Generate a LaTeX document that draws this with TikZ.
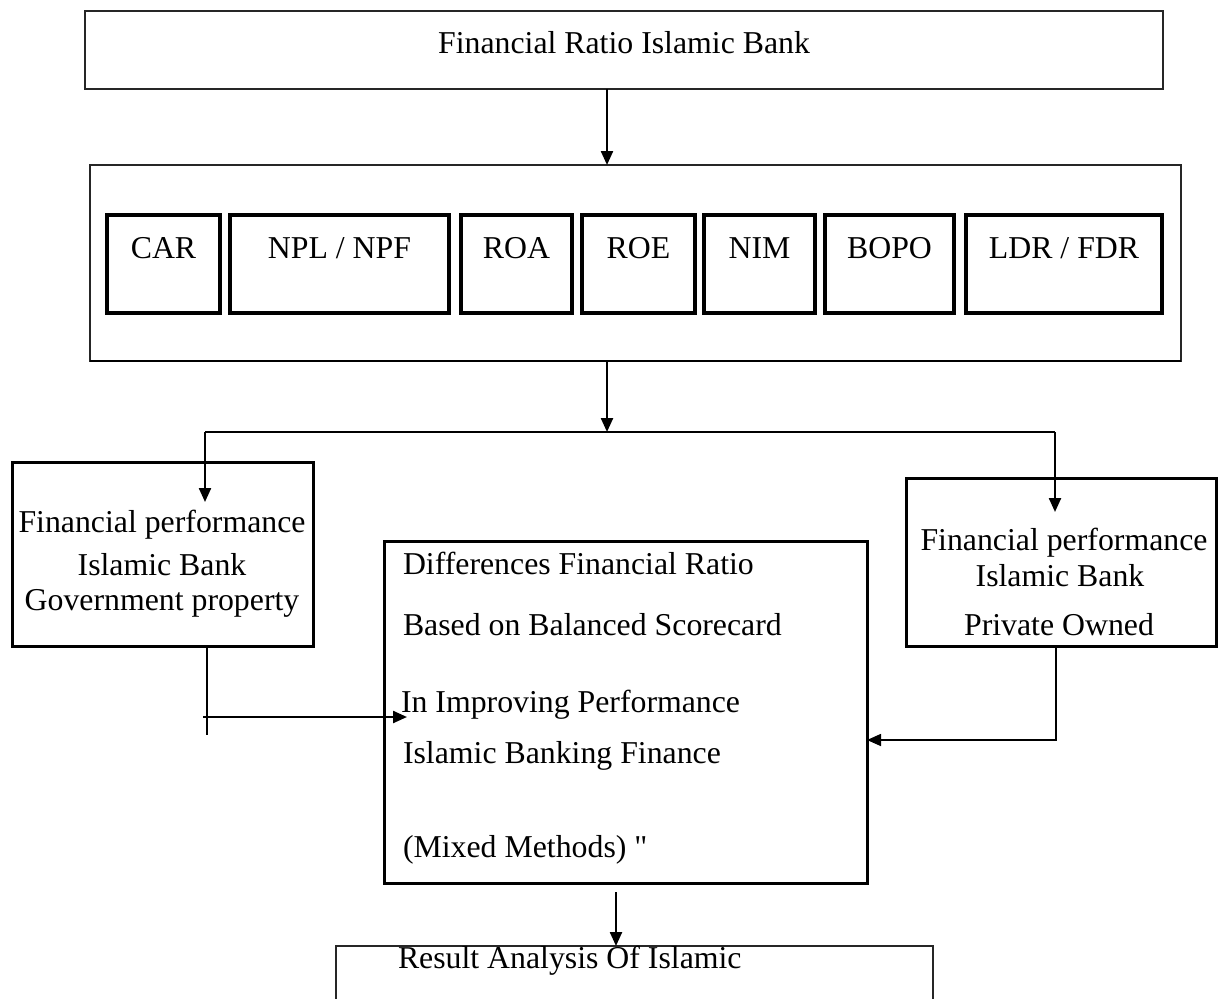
\documentclass[tikz,border=0pt]{standalone}
\usepackage{fontspec}
\setmainfont{Liberation Serif}
\newfontfamily\plainquote{Liberation Serif}[Ligatures=TeXOff]
\usetikzlibrary{arrows.meta}
\begin{document}
\begin{tikzpicture}[x=1pt,y=-1pt,
  every node/.style={inner sep=0pt, outer sep=0pt},
  thinbox/.style={draw=black!85, line width=1.4pt, anchor=north west},
  smallbox/.style={draw=black, line width=3.2pt, anchor=north west},
  midbox/.style={draw=black, line width=3pt, anchor=north west},
  txt/.style={anchor=base, font=\fontsize{31.8}{36}\selectfont},
  txtl/.style={anchor=base west, font=\fontsize{31.8}{36}\selectfont},
  conn/.style={line width=2.3pt},
  arr/.style={line width=2.3pt, -{Triangle[length=14pt,width=12pt]}},
]
\useasboundingbox (0,0) rectangle (1219,999);
\clip (0,0) rectangle (1219,999);

% top box
\node[thinbox, minimum width=1078pt, minimum height=78pt] (top) at (85,11) {};
\node[txt] (topT) at (624,53) {Financial Ratio Islamic Bank};

% ratios box
\node[thinbox, minimum width=1091pt, minimum height=196pt] (ratios) at (90,165) {};
\draw[line width=2.6pt] (ratios.south west) -- (ratios.south east);

% small ratio boxes
\node[smallbox, minimum width=113pt, minimum height=98pt] (car) at (107,215) {};
\node[smallbox, minimum width=219pt, minimum height=98pt] (npl) at (230,215) {};
\node[smallbox, minimum width=111pt, minimum height=98pt] (roa) at (461,215) {};
\node[smallbox, minimum width=113pt, minimum height=98pt] (roe) at (582,215) {};
\node[smallbox, minimum width=111pt, minimum height=98pt] (nim) at (704,215) {};
\node[smallbox, minimum width=129pt, minimum height=98pt] (bopo) at (825,215) {};
\node[smallbox, minimum width=196pt, minimum height=98pt] (ldr) at (966,215) {};
\node[txt] (carT) at (car.center |- 0,258) {CAR};
\node[txt] (nplT) at (npl.center |- 0,258) {NPL / NPF};
\node[txt] (roaT) at (roa.center |- 0,258) {ROA};
\node[txt] (roeT) at (roe.center |- 0,258) {ROE};
\node[txt] (nimT) at (nim.center |- 0,258) {NIM};
\node[txt] (bopoT) at (bopo.center |- 0,258) {BOPO};
\node[txt] (ldrT) at (ldr.center |- 0,258) {LDR / FDR};

% left box
\node[midbox, minimum width=301pt, minimum height=184pt] (gov) at (12,462) {};
\node[txt] (govT1) at (162,532) {Financial performance};
\node[txt] (govT2) at (162,575) {Islamic Bank};
\node[txt] (govT3) at (162,610) {Government property};

% right box
\node[midbox, minimum width=310pt, minimum height=168pt] (priv) at (906,478) {};
\node[txt] (privT1) at (1064,550) {Financial performance};
\node[txt] (privT2) at (1060,586) {Islamic Bank};
\node[txt] (privT3) at (1059,635) {Private Owned};

% middle box
\node[midbox, minimum width=483pt, minimum height=342pt] (mid) at (384,541) {};
\node[txtl] (midT1) at (403,574) {Differences Financial Ratio};
\node[txtl] (midT2) at (403,635) {Based on Balanced Scorecard};
\node[txtl] (midT3) at (401,712) {In Improving Performance};
\node[txtl] (midT4) at (403,763) {Islamic Banking Finance};
\node[txtl] (midT5) at (403,857) {(Mixed Methods) {\plainquote "}};

% bottom box (cut off by page)
\node[thinbox, minimum width=597pt, minimum height=80pt] (res) at (336,946) {};
\node[txtl] (resT) at (398,968) {Result Analysis Of Islamic};

% connector coordinates
\coordinate (a1) at (607,0);
\coordinate (split) at (607,432);
\coordinate (lc) at (205,432);
\coordinate (rc) at (1055,432);
\coordinate (ltip) at (205,502);
\coordinate (rtip) at (1055,512);
\coordinate (lv) at (207,735);
\coordinate (lstart) at (203,717);
\coordinate (ltip2) at (407,717);
\coordinate (rj) at (1056,740);
\coordinate (bstart) at (616,892);

% connectors
\draw[arr] (top.south -| a1) -- (ratios.north -| a1);
\draw[arr] (ratios.south -| a1) -- (split);
\draw[conn] (lc) -- (rc);
\draw[arr] (lc) -- (ltip);
\draw[arr] (rc) -- (rtip);
\draw[conn] (gov.south -| lv) -- (lv);
\draw[arr] (lstart) -- (ltip2);
\draw[line width=1.6pt, -{Triangle[length=14pt,width=12pt]}] (priv.south -| rj) -- (rj) -- (rj -| mid.east);
\draw[arr] (bstart) -- (res.north -| bstart);
\end{tikzpicture}
\end{document}
